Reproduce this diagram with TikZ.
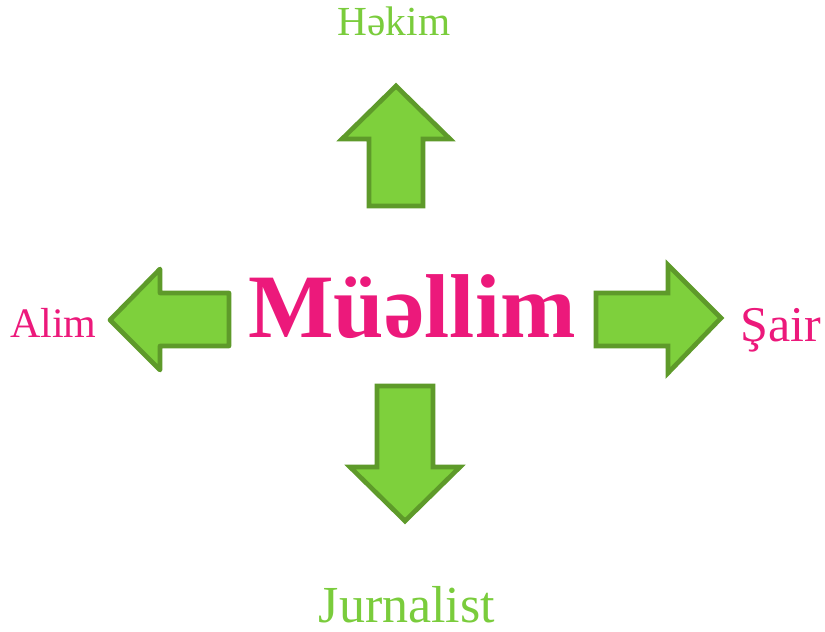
\documentclass[tikz,border=0pt]{standalone}
\usepackage{fontspec}
\setmainfont{Liberation Serif}
\usepackage{xcolor}
\usepackage{tikz}
\usetikzlibrary{positioning}
\definecolor{Pink}{HTML}{EC197B}
\definecolor{GreenF}{HTML}{7ED03C}
\definecolor{GreenD}{HTML}{5E9A2A}
\definecolor{GreenT}{HTML}{7ACC3C}

\begin{document}
\begin{tikzpicture}[x=0.75pt,y=-0.75pt,
    blk/.style={draw=GreenD,fill=GreenF,line width=3.5pt,line join=miter},
    lbl/.style={inner sep=0pt,anchor=base}]
  \useasboundingbox (0,0) rectangle (825,632);
  % centre word
  \node[lbl,text=Pink,font=\fontsize{68}{70}\selectfont\bfseries] (teacher) at (412,337) {Müəllim};
  % labels
  \node[lbl,text=GreenT,font=\fontsize{31}{33}\selectfont] (doctor) at (394,35) {Həkim};
  \node[lbl,text=GreenT,font=\fontsize{39}{41}\selectfont] (journ) at (407,622) {Jurnalist};
  \node[lbl,anchor=base west,text=Pink,font=\fontsize{31.5}{33}\selectfont] (sci) at (10,337) {Alim};
  \node[lbl,anchor=base west,text=Pink,font=\fontsize{37.5}{39}\selectfont] (poet) at (740,341) {Şair};
  % block arrows
  \draw[blk] (396,86) -- (450,139) -- (423,139) -- (423,206) -- (369,206) -- (369,139) -- (342,139) -- cycle;
  \draw[blk] (405,521) -- (460,467) -- (433,467) -- (433,386) -- (377,386) -- (377,467) -- (350,467) -- cycle;
  \draw[blk,line join=round] (110,320) -- (160,269) -- (160,293) -- (229,293) -- (229,346) -- (160,346) -- (160,370) -- cycle;
  \draw[blk] (721,318) -- (668,265) -- (668,293) -- (596,293) -- (596,346) -- (668,346) -- (668,373) -- cycle;
\end{tikzpicture}
\end{document}
